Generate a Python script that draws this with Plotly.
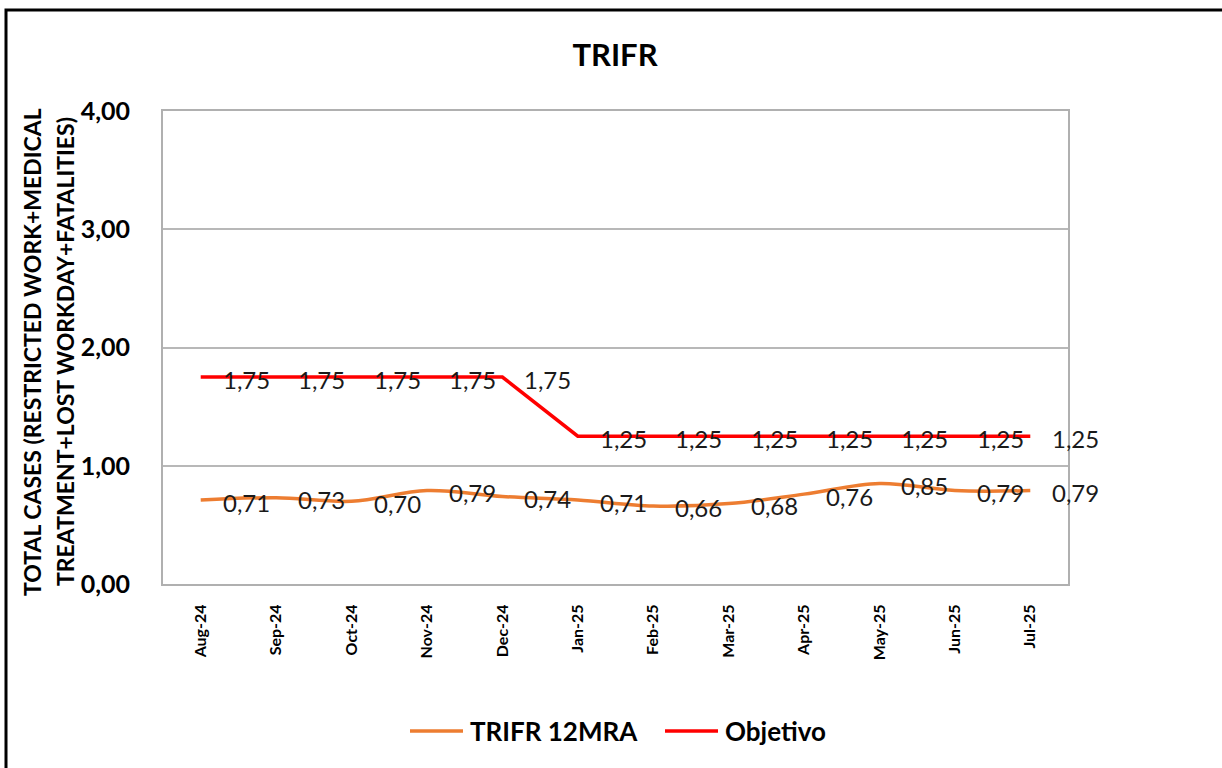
import plotly.graph_objects as go

# Monthly series
months = ["Aug-24", "Sep-24", "Oct-24", "Nov-24", "Dec-24", "Jan-25",
          "Feb-25", "Mar-25", "Apr-25", "May-25", "Jun-25", "Jul-25"]
trifr_12mra = [0.71, 0.73, 0.70, 0.79, 0.74, 0.71, 0.66, 0.68, 0.76, 0.85, 0.79, 0.79]
objetivo = [1.75, 1.75, 1.75, 1.75, 1.75, 1.25, 1.25, 1.25, 1.25, 1.25, 1.25, 1.25]
y_ticks = [0, 1, 2, 3, 4]
series_names = ["TRIFR 12MRA", "Objetivo"]
series_colors = ["#ED7D31", "#FF0000"]

FONT = "Lato, 'Open Sans', sans-serif"
W, H = 1222, 768
ML, MR, MT, MB = 163, 154, 111, 184
PW, PH = W - ML - MR, H - MT - MB


def px_x(px):
    return (px - ML) / PW


def px_y(py):
    return (H - MB - py) / PH


def fmt(v):
    return f"{v:.2f}".replace(".", ",")


fig = go.Figure()
fig.add_trace(go.Scatter(
    x=months, y=trifr_12mra, name=series_names[0], mode="lines",
    line=dict(color=series_colors[0], width=3.5, shape="spline", smoothing=1.0),
    showlegend=False,
))
fig.add_trace(go.Scatter(
    x=months, y=objetivo, name=series_names[1], mode="lines",
    line=dict(color=series_colors[1], width=3.5),
    showlegend=False,
))

# Data labels to the right of each point
annotations = []
for series in (trifr_12mra, objetivo):
    for m, v in zip(months, series):
        annotations.append(dict(
            x=m, y=v, xref="x", yref="y", text=fmt(v), showarrow=False,
            xanchor="left", yanchor="middle", xshift=20, yshift=-2,
            font=dict(family=FONT, size=24, color="#1a1a1a"),
        ))

# Two-line vertical axis title
for line_text, px in (("TOTAL CASES (RESTRICTED WORK+MEDICAL", 32),
                      ("TREATMENT+LOST WORKDAY+FATALITIES)", 65)):
    annotations.append(dict(
        x=px_x(px), y=px_y(352), xref="paper", yref="paper",
        text=f"<b>{line_text}</b>", showarrow=False, textangle=-90,
        xanchor="center", yanchor="middle",
        font=dict(family=FONT, size=23, color="#000000"),
    ))

# Outer frame (left and top edges)
shapes = [dict(
    type="path", xref="paper", yref="paper",
    path=(f"M {px_x(6)} {px_y(H + 50)} "
          f"L {px_x(6)} {px_y(10)} "
          f"L {px_x(W + 50)} {px_y(10)}"),
    line=dict(color="#000000", width=3),
)]

# Legend below the axis: line sample followed by the series name
legend_y = 731
for name, color, x0 in zip(series_names, series_colors, (410, 665)):
    shapes.append(dict(
        type="line", xref="paper", yref="paper",
        x0=px_x(x0), x1=px_x(x0 + 53), y0=px_y(legend_y), y1=px_y(legend_y),
        line=dict(color=color, width=3.5),
    ))
    annotations.append(dict(
        x=px_x(x0 + 58), y=px_y(legend_y), xref="paper", yref="paper",
        text=f"<b>{name}</b>", showarrow=False,
        xanchor="left", yanchor="middle",
        font=dict(family=FONT, size=26, color="#000000"),
    ))

fig.update_layout(
    width=W, height=H,
    margin=dict(l=ML, r=MR, t=MT, b=MB),
    paper_bgcolor="white", plot_bgcolor="white",
    separators=",.",
    showlegend=False,
    title=dict(text="<b>TRIFR</b>", x=615 / W, xanchor="center",
               y=1 - 55 / H, yanchor="middle",
               font=dict(family=FONT, size=31, color="#000000")),
    xaxis=dict(
        type="category", range=[-0.5, len(months) - 0.5],
        tickangle=-90, ticklabelstandoff=12,
        tickfont=dict(family=FONT, size=16, color="#000000", weight="bold"),
        showgrid=False, showline=True, mirror=True,
        linecolor="#B0B0B0", linewidth=2, ticks="",
    ),
    yaxis=dict(
        range=[0, 4], tickvals=y_ticks, tickformat=".2f",
        ticklabelstandoff=26,
        tickfont=dict(family=FONT, size=25, color="#000000", weight="bold"),
        showgrid=True, gridcolor="#B8B8B8", gridwidth=1.5,
        showline=True, mirror=True, linecolor="#B0B0B0", linewidth=2,
        ticks="", zeroline=False,
    ),
    annotations=annotations,
    shapes=shapes,
)

fig.write_html("out.html")
